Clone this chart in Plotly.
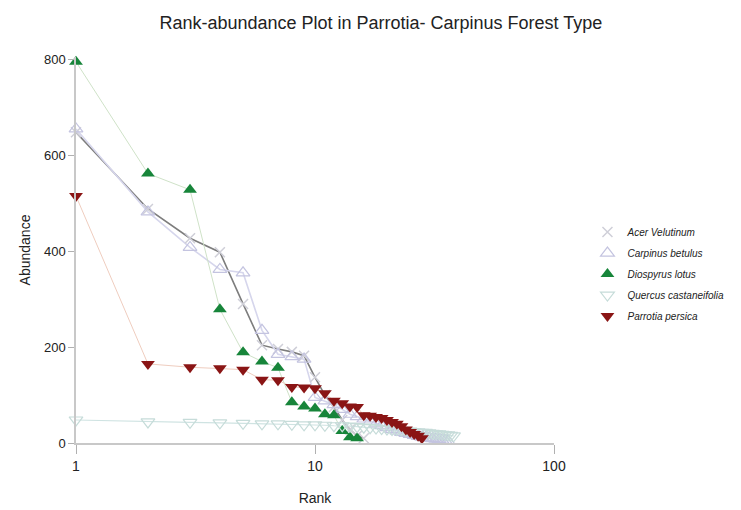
import plotly.graph_objects as go

title = "Rank-abundance Plot in Parrotia- Carpinus Forest Type"
species = ["Acer Velutinum", "Carpinus betulus", "Diospyrus lotus",
           "Quercus castaneifolia", "Parrotia persica"]

acer = [648, 488, 427, 398, 290, 204, 196, 190, 182, 137, 100, 75, 48, 28, 15, 10]
carpinus = [655, 482, 408, 362, 355, 235, 185, 180, 175, 95, 88, 80, 70, 60, 55, 50,
            45, 40, 36, 32, 28, 25, 22, 20, 18, 16, 14, 12, 11, 10, 9, 8, 7, 6, 5, 4]
diospyrus = [795, 562, 528, 279, 189, 170, 157, 85, 76, 72, 60, 58, 25, 12, 10]
quercus = [48, 44, 43, 42, 41, 40, 40, 39, 38, 38, 37, 36, 36, 35, 34, 33, 32, 31, 30,
           29, 28, 28, 27, 26, 25, 24, 23, 22, 22, 21, 20, 19, 19, 18, 17, 17, 16, 15]
parrotia = [515, 165, 158, 156, 153, 132, 131, 117, 116, 114, 104, 88, 83, 76, 75,
            58, 57, 54, 52, 48, 44, 40, 35, 28, 23, 19, 15, 10]

x_ticks = [1, 10, 100]
y_ticks = [0, 200, 400, 600, 800]

def ranks(v):
    return list(range(1, len(v) + 1))

FONT = "Liberation Sans Narrow, Arial Narrow, Liberation Sans, Arial, sans-serif"

series = [
    (species[0], acer, dict(color="#7d7d7d", width=1.6),
     dict(symbol="x-thin", size=10, color="#cfcfd8", line=dict(color="#cfcfd8", width=1.5))),
    (species[1], carpinus, dict(color="#d6d6ec", width=1.6),
     dict(symbol="triangle-up-open", size=12, color="#c4c4e0", line=dict(width=1.2))),
    (species[2], diospyrus, dict(color="#cfe2c8", width=1),
     dict(symbol="triangle-up", size=12, color="#17853a")),
    (species[3], quercus, dict(color="#cfe3e2", width=1.2),
     dict(symbol="triangle-down-open", size=12, color="#c6dcd9", line=dict(width=1.2))),
    (species[4], parrotia, dict(color="#efcdbf", width=1),
     dict(symbol="triangle-down", size=12, color="#8a1515")),
]

fig = go.Figure()
for name, vals, ln, mk in series:
    fig.add_trace(go.Scatter(x=ranks(vals), y=vals, mode="lines", line=ln,
                             showlegend=False, hoverinfo="skip", cliponaxis=False))
for name, vals, ln, mk in series:
    fig.add_trace(go.Scatter(x=ranks(vals), y=vals, mode="markers", marker=mk,
                             name="<i>" + name + "</i>", legendgroup=name,
                             cliponaxis=False))

fig.update_layout(
    width=741, height=510,
    margin=dict(l=76, r=181, t=57, b=67),
    paper_bgcolor="white", plot_bgcolor="white",
    font=dict(family=FONT, size=13, color="#222"),
    title=dict(text=title, x=0.514, xanchor="center", y=0.955, yanchor="middle",
               font=dict(family=FONT, size=18, color="#222")),
    showlegend=True,
    legend=dict(x=1.07, y=0.584, xanchor="left", yanchor="top",
                font=dict(family=FONT, size=10, color="#222"),
                bgcolor="rgba(0,0,0,0)", itemwidth=30, tracegroupgap=2),
)
fig.update_xaxes(
    type="log", range=[0, 2], tickvals=x_ticks, ticktext=[str(t) for t in x_ticks],
    showgrid=False, zeroline=False, showline=True, linecolor="#c8c8c8", linewidth=2,
    ticks="outside", ticklen=9, tickcolor="#b0b0b0", tickwidth=1,
    tickfont=dict(size=14, family=FONT, color="#222"), automargin=False,
    title=dict(text="Rank", font=dict(size=14, family=FONT, color="#222"), standoff=20),
)
fig.update_yaxes(
    range=[0, 805], tickvals=y_ticks, ticktext=[str(t) for t in y_ticks],
    showgrid=False, zeroline=False, showline=True, linecolor="#c8c8c8", linewidth=1.5,
    ticks="outside", ticklen=6, tickcolor="#b0b0b0", tickwidth=1,
    tickfont=dict(size=13, family=FONT, color="#222"), automargin=False,
    title=dict(text="Abundance", font=dict(size=14, family=FONT, color="#222"), standoff=10),
)

fig.write_html("out.html", config={"displayModeBar": False},
               post_script="document.body.style.margin='0';")
